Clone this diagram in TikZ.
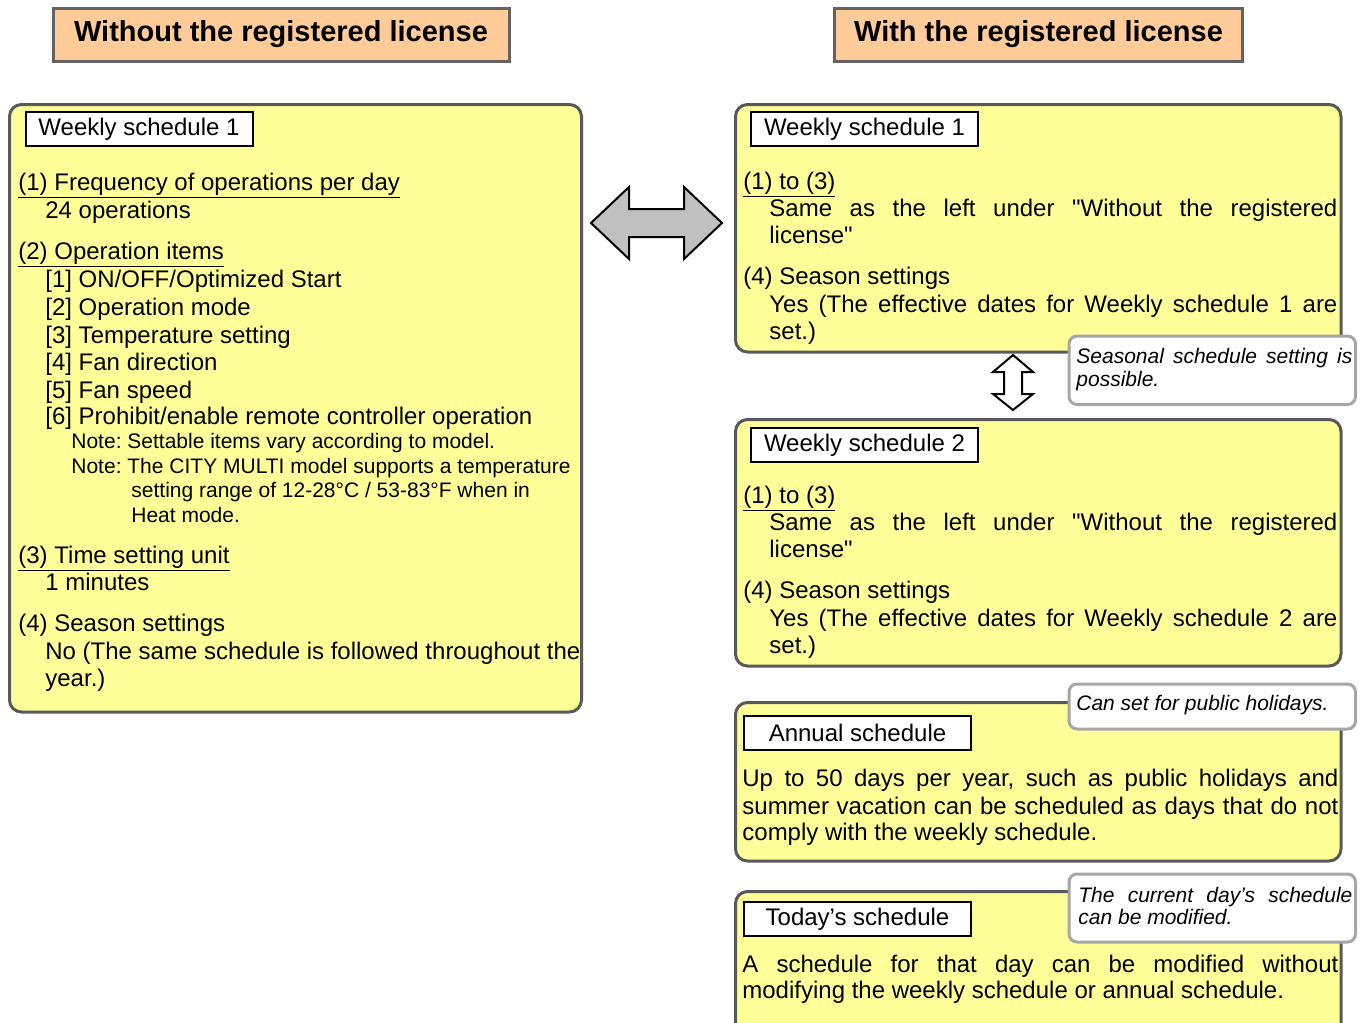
\documentclass[tikz,border=0pt]{standalone}
\usepackage{fontspec}
\setmainfont{Liberation Sans}
\usepackage{tikz}
\frenchspacing

\definecolor{boxyellow}{HTML}{FFFF99}
\definecolor{boxgray}{HTML}{595959}
\definecolor{peach}{HTML}{FFCC99}
\definecolor{titlegray}{HTML}{626262}
\definecolor{tipgray}{HTML}{A6A6A6}
\definecolor{arrowgray}{HTML}{C0C0C0}

\tikzset{
  ybox/.style={draw=boxgray, line width=1.5pt, fill=boxyellow, rounded corners=6pt},
  tipbox/.style={draw=tipgray, line width=1.5pt, fill=white, rounded corners=4pt},
  titlebox/.style={draw=titlegray, line width=1.5pt, fill=peach, inner sep=0pt,
    minimum height=26.5pt, font=\bfseries\fontsize{14.5}{17}\selectfont},
  labbox/.style={draw=black, line width=1pt, fill=white, inner sep=0pt,
    minimum width=113.5pt, minimum height=17pt, font=\fontsize{12}{14}\selectfont},
  txt/.style={anchor=base west, inner sep=0pt, font=\fontsize{12}{14}\selectfont},
  note/.style={anchor=base west, inner sep=0pt, font=\fontsize{10.5}{12.5}\selectfont},
  tiptxt/.style={anchor=base west, inner sep=0pt, font=\itshape\fontsize{10.5}{12.5}\selectfont}
}

\begin{document}
\begin{tikzpicture}[x=0.5pt,y=-0.5pt]
\useasboundingbox (0,0) rectangle (1372,1023);

\node[titlebox, minimum width=228pt] (tleft) at (281,34.5) {Without the registered license};
\node[titlebox, minimum width=204pt] (tright) at (1038.5,34.5) {With the registered license};

\draw[ybox] (9.5,104.5) rectangle (581.5,712);
\draw[ybox] (735.5,104.5) rectangle (1341,352);
\draw[ybox] (735.5,419.5) rectangle (1341,666);
\draw[ybox] (735.5,702.5) rectangle (1341,861);
\draw[ybox] (735.5,891.5) rectangle (1341,1060);

\draw[line width=1pt, fill=arrowgray] (591,223) -- (629,187) -- (629,209) -- (684,209)
  -- (684,187) -- (722,223) -- (684,259) -- (684,237) -- (629,237) -- (629,259) -- cycle;
\draw[line width=1pt, fill=white] (1013,355) -- (1033,372) -- (1022,372) -- (1022,394)
  -- (1033,394) -- (1013,410) -- (993,394) -- (1004,394) -- (1004,372) -- (993,372) -- cycle;

% left box
\node[labbox] (lab0) at (139,129) {Weekly schedule 1};
\node[txt] (l1) at (18,190) {\underline{(1) Frequency of operations per day}};
\node[txt] (l2) at (45,218) {24 operations};
\node[txt] (l3) at (18,259) {\underline{(2) Operation items}};
\node[txt] (l4) at (45,287) {[1] ON/OFF/Optimized Start};
\node[txt] (l5) at (45,315) {[2] Operation mode};
\node[txt] (l6) at (45,343) {[3] Temperature setting};
\node[txt] (l7) at (45,370) {[4] Fan direction};
\node[txt] (l8) at (45,398) {[5] Fan speed};
\node[txt] (l9) at (45,424) {[6] Prohibit/enable remote controller operation};
\node[note] (l10) at (71,448) {Note: Settable items vary according to model.};
\node[note] (l11) at (71,473) {Note: The CITY MULTI model supports a temperature};
\node[note] (l12) at (131,497) {setting range of 12-28°C / 53-83°F when in};
\node[note] (l13) at (131,522) {Heat mode.};
\node[txt] (l14) at (18,563) {\underline{(3) Time setting unit}};
\node[txt] (l15) at (45,590) {1 minutes};
\node[txt] (l16) at (18,631) {(4) Season settings};
\node[txt] (l17) at (45,659) {No (The same schedule is followed throughout the};
\node[txt] (l18) at (45,686) {year.)};

% weekly schedule 1
\node[labbox] (lab1) at (864.5,129) {Weekly schedule 1};
\node[txt] (a1) at (743,189) {\underline{(1) to (3)}};
\node[txt] (a2) at (769,216) {\makebox[284pt][s]{Same as the left under \textquotedbl Without the registered}};
\node[txt] (a3) at (769,243) {license\textquotedbl};
\node[txt] (a4) at (743,284) {(4) Season settings};
\node[txt] (a5) at (769,312) {\makebox[284pt][s]{Yes (The effective dates for Weekly schedule 1 are}};
\node[txt] (a6) at (769,339) {set.)};

% weekly schedule 2
\node[labbox] (lab2) at (864.5,445) {Weekly schedule 2};
\node[txt] (b1) at (743,503) {\underline{(1) to (3)}};
\node[txt] (b2) at (769,530) {\makebox[284pt][s]{Same as the left under \textquotedbl Without the registered}};
\node[txt] (b3) at (769,557) {license\textquotedbl};
\node[txt] (b4) at (743,598) {(4) Season settings};
\node[txt] (b5) at (769,626) {\makebox[284pt][s]{Yes (The effective dates for Weekly schedule 2 are}};
\node[txt] (b6) at (769,653) {set.)};

% annual
\node[labbox] (lab3) at (857.5,733) {Annual schedule};
\node[txt] (c1) at (742,786) {\makebox[298pt][s]{Up to 50 days per year, such as public holidays and}};
\node[txt] (c2) at (742,814) {\makebox[298pt][s]{summer vacation can be scheduled as days that do not}};
\node[txt] (c3) at (742,840) {comply with the weekly schedule.};

% today
\node[labbox] (lab4) at (857.5,919) {Today’s schedule};
\node[txt] (d1) at (742,972) {\makebox[298pt][s]{A schedule for that day can be modified without}};
\node[txt] (d2) at (742,998) {modifying the weekly schedule or annual schedule.};

% callouts
\draw[tipbox] (1069,336) rectangle (1355.5,404.5);
\node[tiptxt] (s1) at (1076,363) {\makebox[138pt][s]{Seasonal schedule setting is}};
\node[tiptxt] (s2) at (1076,386) {possible.};
\draw[tipbox] (1069,684) rectangle (1355.5,729);
\node[tiptxt] (p1) at (1076,710) {Can set for public holidays.};
\draw[tipbox] (1069,874) rectangle (1355.5,942);
\node[tiptxt] (t1) at (1078,902) {\makebox[137pt][s]{The current day’s schedule}};
\node[tiptxt] (t2) at (1078,924) {can be modified.};
\end{tikzpicture}
\end{document}
